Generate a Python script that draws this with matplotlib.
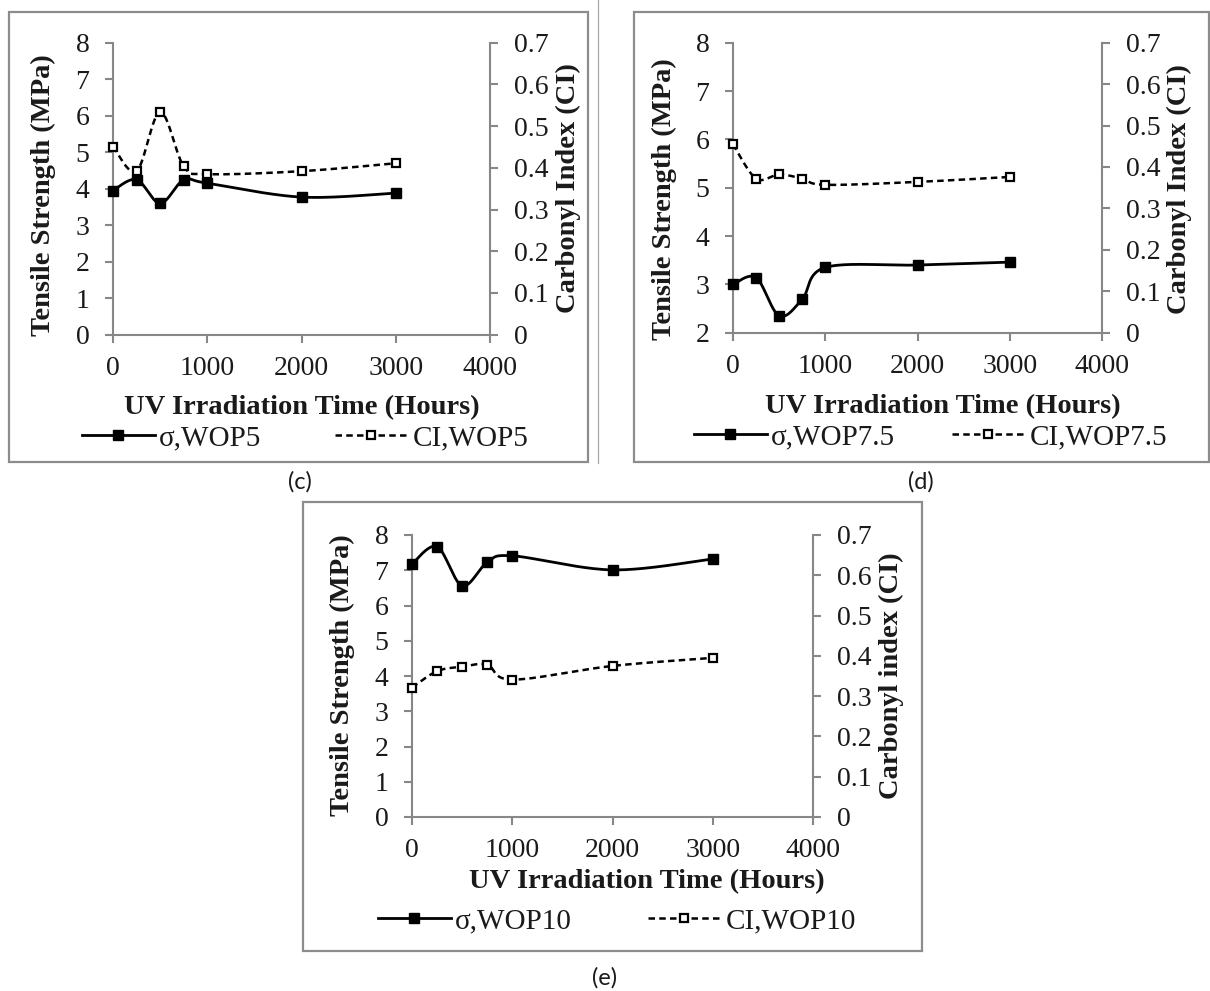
import numpy as np
import matplotlib
matplotlib.use("Agg")
import matplotlib.pyplot as plt
from matplotlib.lines import Line2D
from matplotlib.patches import Rectangle

# ---------------- data ----------------
hours = [0, 250, 500, 750, 1000, 2000, 3000]

sigma_wop5 = [3.95, 4.25, 3.60, 4.24, 4.15, 3.77, 3.88]
ci_wop5 = [0.451, 0.392, 0.534, 0.404, 0.385, 0.392, 0.411]

sigma_wop75 = [3.00, 3.14, 2.35, 2.69, 3.35, 3.40, 3.46]
ci_wop75 = [0.455, 0.372, 0.382, 0.372, 0.357, 0.364, 0.376]

sigma_wop10 = [7.18, 7.67, 6.56, 7.22, 7.41, 7.01, 7.32]
ci_wop10 = [0.321, 0.362, 0.373, 0.378, 0.341, 0.375, 0.395]

x_ticks = [0, 1000, 2000, 3000, 4000]
ci_ticks = [0, 0.1, 0.2, 0.3, 0.4, 0.5, 0.6, 0.7]

sigma_names = ["σ,WOP5", "σ,WOP7.5", "σ,WOP10"]
ci_names = ["CI,WOP5", "CI,WOP7.5", "CI,WOP10"]
captions = ["(c)", "(d)", "(e)"]
xlabel_text = "UV Irradiation Time (Hours)"
ylabel_text = "Tensile Strength (MPa)"
ci_label_texts = ["Carbonyl Index (CI)", "Carbonyl Index (CI)", "Carbonyl index (CI)"]

# ---------------- layout (pixels) ----------------
W, H = 1210, 991
fig = plt.figure(figsize=(W / 100, H / 100), dpi=100)

SERIF = ["Liberation Serif", "DejaVu Serif"]
CAPFONT = ["Lato", "DejaVu Sans"]
GRAY = "#878787"
BOX = "#8c8c8c"
TXT = "#1a1a1a"


def fx(x):
    return x / W


def fy(y):
    return 1 - y / H


def smooth(xs, ys, n=40):
    """Excel-style smoothed line (Catmull-Rom Bezier) through the points."""
    P = np.column_stack([xs, ys]).astype(float)
    m = len(P)
    out = [P[0]]
    t = np.linspace(0, 1, n)[1:]
    for i in range(m - 1):
        p0 = P[i - 1] if i > 0 else P[i]
        p1 = P[i]
        p2 = P[i + 1]
        p3 = P[i + 2] if i + 2 < m else P[i + 1]
        c1 = p1 + (p2 - p0) / 6.0
        c2 = p2 - (p3 - p1) / 6.0
        tt = t[:, None]
        seg = ((1 - tt) ** 3) * p1 + 3 * ((1 - tt) ** 2) * tt * c1 + 3 * (1 - tt) * tt ** 2 * c2 + tt ** 3 * p2
        out.extend(seg)
    out = np.array(out)
    return out[:, 0], out[:, 1]


panels = [
    dict(box=(9, 12, 588, 462), axes=(113, 42.7, 490, 334.7), ylim=(0, 8),
         ylab=(43, 195), rlab=(568, 188), xlab=(302, 408),
         leg=((82, 438), (335, 438)), cap=(300, 482),
         sigma=sigma_wop5, ci=ci_wop5),
    dict(box=(634, 12, 1209, 462), axes=(733, 42.7, 1102, 332.7), ylim=(2, 8),
         ylab=(664, 199), rlab=(1179, 189), xlab=(943, 407),
         leg=((694, 437), (952, 437)), cap=(921, 482),
         sigma=sigma_wop75, ci=ci_wop75),
    dict(box=(303, 502, 922, 951), axes=(412, 535, 813, 817), ylim=(0, 8),
         ylab=(342, 675), rlab=(891, 676), xlab=(647, 882),
         leg=((378, 921), (648, 921)), cap=(605, 978),
         sigma=sigma_wop10, ci=ci_wop10),
]

TICK_FS = 20
LAB_FS = 20.5
LEG_FS = 21

SIG_LW, CI_LW = 2.0, 1.8
SIG_MS, CI_MS = 7.0, 6.0
DASH = (0, (2.6, 1.7))

for k, p in enumerate(panels):
    bx0, by0, bx1, by1 = p["box"]
    fig.add_artist(Rectangle((fx(bx0), fy(by1)), (bx1 - bx0) / W, (by1 - by0) / H,
                             transform=fig.transFigure, fill=False, ec=BOX, lw=1.6))
    x0, y0, x1, y1 = p["axes"]
    ax = fig.add_axes([fx(x0), fy(y1), (x1 - x0) / W, (y1 - y0) / H])
    ax.patch.set_alpha(0)
    ax2 = ax.twinx()
    ax2.patch.set_alpha(0)

    ax.set_xlim(0, 4000)
    ax.set_ylim(*p["ylim"])
    ax2.set_ylim(0, 0.7)

    for s in ["top", "right"]:
        ax.spines[s].set_visible(False)
    for s in ["top", "left", "bottom"]:
        ax2.spines[s].set_visible(False)
    for sp in [ax.spines["left"], ax.spines["bottom"], ax2.spines["right"]]:
        sp.set_color(GRAY)
        sp.set_linewidth(1.5)

    ax.set_xticks(x_ticks)
    ax.set_xticklabels([str(v) for v in x_ticks])
    yt = list(range(p["ylim"][0], p["ylim"][1] + 1))
    ax.set_yticks(yt)
    ax.set_yticklabels([str(v) for v in yt])
    ax2.set_yticks(ci_ticks)
    ax2.set_yticklabels([f"{v:g}" for v in ci_ticks])

    ax.tick_params(axis="x", direction="out", length=6, width=1.5, color=GRAY,
                   labelsize=TICK_FS, pad=9, labelcolor=TXT)
    ax.tick_params(axis="y", direction="out", length=6, width=1.5, color=GRAY,
                   labelsize=TICK_FS, pad=11, labelcolor=TXT)
    ax2.tick_params(axis="y", direction="out", length=6, width=1.5, color=GRAY,
                    labelsize=TICK_FS, pad=11, labelcolor=TXT)
    for lab in ax.get_xticklabels() + ax.get_yticklabels() + ax2.get_yticklabels():
        lab.set_family(SERIF)

    # sigma series (primary axis)
    sx, sy = smooth(hours, p["sigma"])
    ax.plot(sx, sy, color="black", lw=SIG_LW, clip_on=False, zorder=3)
    ax.plot(hours, p["sigma"], ls="none", marker="s", ms=SIG_MS, mfc="black",
            mec="black", clip_on=False, zorder=4)
    # CI series (secondary axis)
    cx, cy = smooth(hours, p["ci"])
    ax2.plot(cx, cy, color="black", lw=CI_LW, ls=DASH, clip_on=False, zorder=3)
    ax2.plot(hours, p["ci"], ls="none", marker="s", ms=CI_MS, mfc="white",
             mec="black", mew=1.6, clip_on=False, zorder=4)

    # axis labels
    fig.text(fx(p["ylab"][0]), fy(p["ylab"][1]), ylabel_text, rotation=90,
             ha="center", va="center", fontsize=LAB_FS, fontweight="bold",
             family=SERIF, color=TXT)
    fig.text(fx(p["rlab"][0]), fy(p["rlab"][1]), ci_label_texts[k], rotation=90,
             ha="center", va="center", fontsize=LAB_FS, fontweight="bold",
             family=SERIF, color=TXT)
    fig.text(fx(p["xlab"][0]), fy(p["xlab"][1]), xlabel_text,
             ha="center", va="center", fontsize=LAB_FS, fontweight="bold",
             family=SERIF, color=TXT)

    # legend entries
    h_sig = Line2D([], [], color="black", lw=SIG_LW, marker="s", ms=SIG_MS,
                   mfc="black", mec="black")
    h_ci = Line2D([], [], color="black", lw=CI_LW, ls=DASH, marker="s", ms=CI_MS,
                  mfc="white", mec="black", mew=1.6)
    for h, name, (lx, ly) in [(h_sig, sigma_names[k], p["leg"][0]),
                              (h_ci, ci_names[k], p["leg"][1])]:
        fig.legend(handles=[h], labels=[name], loc="center left",
                   bbox_to_anchor=(fx(lx), fy(ly)), bbox_transform=fig.transFigure,
                   frameon=False, borderpad=0, borderaxespad=0, handlelength=2.5,
                   handletextpad=0.15, prop={"family": SERIF, "size": LEG_FS},
                   labelcolor=TXT)

    fig.text(fx(p["cap"][0]), fy(p["cap"][1]), captions[k], ha="center", va="center",
             fontsize=17, family=CAPFONT, color=TXT)

# separator between (c) and (d)
fig.add_artist(Line2D([fx(598), fx(598)], [fy(0), fy(463)], transform=fig.transFigure,
                      color="#a8a8a8", lw=0.9))

fig.savefig("out.png", dpi=100, facecolor="white")
